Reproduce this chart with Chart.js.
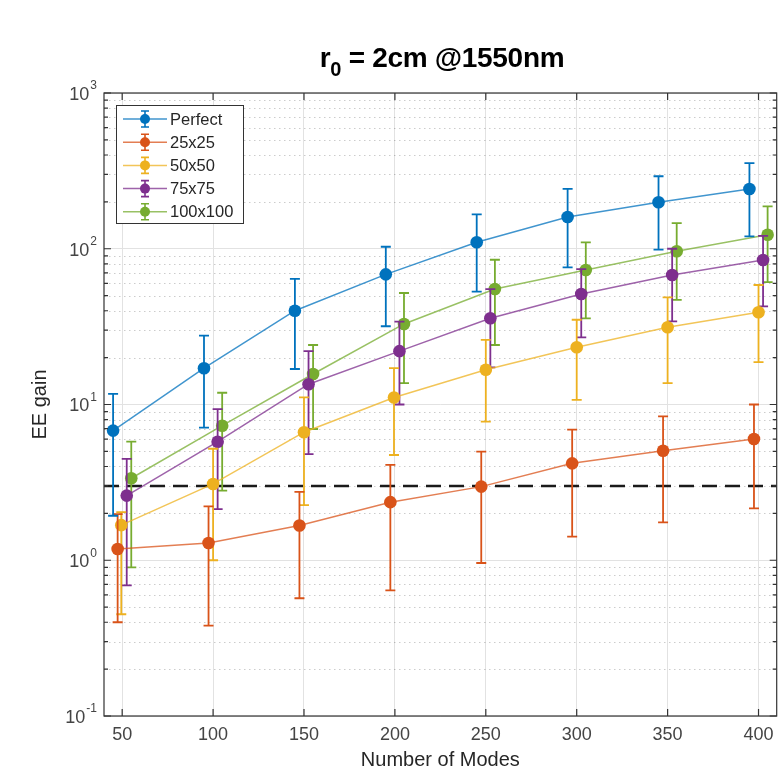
<!DOCTYPE html>
<html>
<head>
<meta charset="utf-8">
<script src="https://cdn.jsdelivr.net/npm/chart.js@4.4.1/dist/chart.umd.min.js"></script>
<style>
  html, body { margin: 0; padding: 0; background: #fff; }
  #wrap { position: relative; width: 783px; height: 772px; }
  #title {
    position: absolute; left: 104px; width: 676px; top: 42px;
    text-align: center; color: #000;
    font: bold 28px "Liberation Sans", Arial, sans-serif; letter-spacing: -0.3px;
  }
  #title sub { font-size: 20px; vertical-align: -9px; line-height: 0; }
</style>
</head>
<body>
<div id="wrap">
  <canvas id="eeChart" width="783" height="772"></canvas>
  <div id="title">r<sub>0</sub> = 2cm @1550nm</div>
</div>
<script>
/* ── data ── */
const seriesNames  = ['Perfect', '25x25', '50x50', '75x75', '100x100'];
const seriesColors = ['#0072BD', '#D95319', '#EDB120', '#7E2F8E', '#77AC30'];
const lineColors   = ['rgba(0,114,189,0.75)', 'rgba(217,83,25,0.75)', 'rgba(237,177,32,0.75)',
                      'rgba(126,47,142,0.75)', 'rgba(119,172,48,0.75)'];

const perfectX  = [45, 95, 145, 195, 245, 295, 345, 395];
const perfectY  = [6.8, 17.1, 40, 68.5, 110, 160, 199, 242];
const perfectLo = [1.93, 7.1, 16.9, 31.8, 53, 76, 98.6, 120];
const perfectHi = [11.7, 27.7, 64, 103, 166, 242, 292, 355];

const s25X  = [47.5, 97.5, 147.5, 197.5, 247.5, 297.5, 347.5, 397.5];
const s25Y  = [1.18, 1.29, 1.67, 2.36, 2.97, 4.19, 5.05, 6.0];
const s25Lo = [0.40, 0.38, 0.57, 0.64, 0.96, 1.42, 1.75, 2.15];
const s25Hi = [1.98, 2.22, 2.75, 4.1, 4.98, 6.9, 8.4, 10];

const s50X  = [49.5, 100, 150, 199.5, 250, 300, 350, 400];
const s50Y  = [1.68, 3.09, 6.64, 11.1, 16.7, 23.3, 31.3, 39.1];
const s50Lo = [0.45, 1.0, 2.26, 4.74, 7.76, 10.7, 13.7, 18.7];
const s50Hi = [2.04, 5.2, 11.1, 17.1, 26, 35, 48.8, 58.5];

const s75X  = [52.5, 102.5, 152.5, 202.5, 252.5, 302.5, 352.5, 402.5];
const s75Y  = [2.6, 5.77, 13.5, 22, 35.8, 51.2, 67.8, 84.7];
const s75Lo = [0.69, 2.13, 4.8, 10, 17.3, 27, 34.2, 42.7];
const s75Hi = [4.47, 9.35, 22, 34, 55, 74, 100, 121];

const s100X  = [55, 105, 155, 205, 255, 305, 355, 405];
const s100Y  = [3.36, 7.31, 15.7, 32.9, 55.2, 73.1, 96.4, 123];
const s100Lo = [0.9, 2.8, 6.96, 13.7, 24.1, 35.7, 47, 61];
const s100Hi = [5.77, 11.9, 24.1, 52, 85, 110, 146, 187];

const thresholdX = [40, 410];
const thresholdY = [3, 3];

const xTicks = [50, 100, 150, 200, 250, 300, 350, 400];
const yTicks = [0.1, 1, 10, 100, 1000];
const yTickExponents = ['-1', '0', '1', '2', '3'];

const FONT = '"Liberation Sans", Arial, sans-serif';

const allX  = [perfectX, s25X, s50X, s75X, s100X];
const allY  = [perfectY, s25Y, s50Y, s75Y, s100Y];
const allLo = [perfectLo, s25Lo, s50Lo, s75Lo, s100Lo];
const allHi = [perfectHi, s25Hi, s50Hi, s75Hi, s100Hi];

const datasets = seriesNames.map((name, k) => ({
  label: name,
  data: allX[k].map((x, i) => ({ x, y: allY[k][i] })),
  errLo: allLo[k],
  errHi: allHi[k],
  errColor: seriesColors[k],
  borderColor: lineColors[k],
  backgroundColor: seriesColors[k],
  borderWidth: 1.5,
  pointRadius: 6.3,
  pointBorderWidth: 0,
  pointBackgroundColor: seriesColors[k],
  tension: 0
}));

datasets.push({
  label: 'threshold',
  data: thresholdX.map((x, i) => ({ x, y: thresholdY[i] })),
  borderColor: '#1a1a1a',
  borderWidth: 2.4,
  borderDash: [15, 8],
  pointRadius: 0
});

/* error bars drawn right before each series, so markers sit on top */
const errorBars = {
  id: 'errorBars',
  beforeDatasetDraw(chart, args) {
    const ds = chart.data.datasets[args.index];
    if (!ds.errLo) return;
    const { ctx, scales: { x, y } } = chart;
    ctx.save();
    ctx.strokeStyle = ds.errColor;
    ctx.lineWidth = 1.8;
    ds.data.forEach((p, i) => {
      const px = x.getPixelForValue(p.x);
      const lo = y.getPixelForValue(ds.errLo[i]);
      const hi = y.getPixelForValue(ds.errHi[i]);
      ctx.beginPath();
      ctx.moveTo(px, lo); ctx.lineTo(px, hi);
      ctx.moveTo(px - 5, lo); ctx.lineTo(px + 5, lo);
      ctx.moveTo(px - 5, hi); ctx.lineTo(px + 5, hi);
      ctx.stroke();
    });
    ctx.restore();
  }
};

/* matlab style: dotted minor grid, inner ticks, box, 10^n labels, legend */
const minorVals = [];
[0.1, 1, 10, 100].forEach(d => { for (let m = 2; m <= 9; m++) minorVals.push(d * m); });

const matlabAxes = {
  id: 'matlabAxes',
  beforeDatasetsDraw(chart) {
    const { ctx, chartArea: a, scales: { y } } = chart;
    ctx.save();
    ctx.strokeStyle = 'rgba(0,0,0,0.2)';
    ctx.lineWidth = 1;
    ctx.setLineDash([1.5, 3.5]);
    minorVals.forEach(v => {
      const py = Math.round(y.getPixelForValue(v)) + 0.5;
      ctx.beginPath(); ctx.moveTo(a.left, py); ctx.lineTo(a.right, py); ctx.stroke();
    });
    ctx.restore();
  },
  afterDraw(chart) {
    const { ctx, chartArea: a, scales: { x, y } } = chart;
    ctx.save();
    ctx.strokeStyle = '#333';
    ctx.lineWidth = 1.2;
    ctx.beginPath();
    xTicks.forEach(v => {
      const px = x.getPixelForValue(v);
      ctx.moveTo(px, a.bottom); ctx.lineTo(px, a.bottom - 7);
      ctx.moveTo(px, a.top); ctx.lineTo(px, a.top + 7);
    });
    yTicks.forEach(v => {
      const py = y.getPixelForValue(v);
      ctx.moveTo(a.left, py); ctx.lineTo(a.left + 7, py);
      ctx.moveTo(a.right, py); ctx.lineTo(a.right - 7, py);
    });
    minorVals.forEach(v => {
      const py = y.getPixelForValue(v);
      ctx.moveTo(a.left, py); ctx.lineTo(a.left + 4, py);
      ctx.moveTo(a.right, py); ctx.lineTo(a.right - 4, py);
    });
    ctx.stroke();
    ctx.strokeRect(a.left, a.top, a.right - a.left, a.bottom - a.top);

    // y tick labels 10^n
    ctx.fillStyle = '#444';
    ctx.textBaseline = 'middle';
    yTicks.forEach((v, i) => {
      const py = y.getPixelForValue(v);
      ctx.font = '12px ' + FONT;
      ctx.textAlign = 'left';
      const ew = ctx.measureText(yTickExponents[i]).width;
      const right = a.left - 7;
      ctx.fillText(yTickExponents[i], right - ew, py - 7);
      ctx.font = '18px ' + FONT;
      ctx.textAlign = 'right';
      ctx.fillText('10', right - ew - 1, py + 2);
    });

    // legend
    const lx = a.left + 12, ly = a.top + 12, lw = 127, lh = 118;
    ctx.fillStyle = '#fff';
    ctx.fillRect(lx, ly, lw, lh);
    ctx.strokeStyle = '#333';
    ctx.lineWidth = 1;
    ctx.strokeRect(lx + 0.5, ly + 0.5, lw, lh);
    seriesNames.forEach((name, k) => {
      const ey = ly + 14 + k * 23.2;
      const c = seriesColors[k];
      ctx.strokeStyle = lineColors[k];
      ctx.lineWidth = 1.5;
      ctx.beginPath(); ctx.moveTo(lx + 7, ey); ctx.lineTo(lx + 51, ey); ctx.stroke();
      ctx.strokeStyle = c;
      ctx.lineWidth = 1.6;
      ctx.beginPath();
      ctx.moveTo(lx + 29, ey - 8); ctx.lineTo(lx + 29, ey + 8);
      ctx.moveTo(lx + 25, ey - 8); ctx.lineTo(lx + 33, ey - 8);
      ctx.moveTo(lx + 25, ey + 8); ctx.lineTo(lx + 33, ey + 8);
      ctx.stroke();
      ctx.fillStyle = c;
      ctx.beginPath(); ctx.arc(lx + 29, ey, 5, 0, Math.PI * 2); ctx.fill();
      ctx.fillStyle = '#262626';
      ctx.font = '16.5px ' + FONT;
      ctx.textAlign = 'left';
      ctx.fillText(name, lx + 54, ey + 1);
    });
    ctx.restore();
  }
};

new Chart(document.getElementById('eeChart'), {
  type: 'line',
  data: { datasets },
  options: {
    responsive: false,
    animation: false,
    devicePixelRatio: 1,
    layout: { padding: { top: 93, right: 3, left: 0, bottom: 0 } },
    plugins: {
      legend: { display: false },
      tooltip: { enabled: false },
      title: { display: false }
    },
    scales: {
      x: {
        type: 'linear',
        min: 40,
        max: 410,
        afterBuildTicks: s => { s.ticks = xTicks.map(v => ({ value: v })); },
        afterFit: s => { s.height = 56; },
        grid: { color: '#e2e2e2', lineWidth: 1, drawTicks: false },
        border: { display: false },
        ticks: { color: '#444', font: { family: FONT, size: 18 }, padding: 8 },
        title: {
          display: true, text: 'Number of Modes', color: '#262626',
          font: { family: FONT, size: 20 }, padding: { top: 0, bottom: 0 }
        }
      },
      y: {
        type: 'logarithmic',
        min: 0.1,
        max: 1000,
        afterBuildTicks: s => { s.ticks = yTicks.map(v => ({ value: v })); },
        afterFit: s => { s.width = 104; },
        grid: { color: '#e2e2e2', lineWidth: 1, drawTicks: false },
        border: { display: false },
        ticks: { display: false },
        title: {
          display: true, text: 'EE gain', color: '#262626',
          font: { family: FONT, size: 20 }, padding: { top: 28, bottom: 0 }
        }
      }
    }
  },
  plugins: [errorBars, matlabAxes]
});
</script>
</body>
</html>
